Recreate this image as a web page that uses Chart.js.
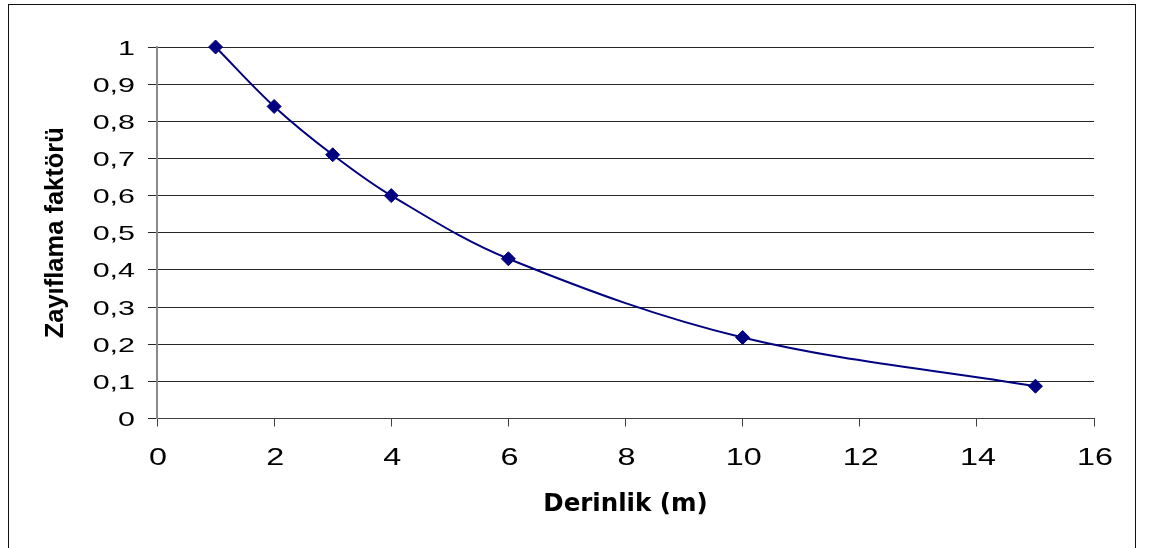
<!DOCTYPE html>
<html>
<head>
<meta charset="utf-8">
<title>Zayıflama faktörü – Derinlik</title>
<script src="https://cdn.jsdelivr.net/npm/chart.js@4"></script>
<style>
  html, body { margin: 0; padding: 0; background: #fff; overflow: hidden; }
  #wrap { position: relative; width: 1152px; height: 548px; overflow: hidden; }
  #frame { position: absolute; left: 8px; top: 4px; width: 1126px; height: 600px;
           border: 1px solid #111; pointer-events: none; }
  canvas { display: block; }
</style>
</head>
<body>
<div id="wrap">
  <canvas id="chart" width="1152" height="548"></canvas>
  <div id="frame"></div>
</div>
<script>
// Measured attenuation factor against depth
const depths = [1, 2, 3, 4, 6, 10, 15];
const attenuation = [1, 0.84, 0.71, 0.60, 0.43, 0.218, 0.087];

// Axis tick labels (Turkish decimal comma)
const xTickLabels = ['0', '2', '4', '6', '8', '10', '12', '14', '16'];
const yTickLabels = ['0', '0,1', '0,2', '0,3', '0,4', '0,5', '0,6', '0,7', '0,8', '0,9', '1'];

const xTitle = 'Derinlik (m)';
const yTitle = 'Zayıflama faktörü';

// Tick labels are drawn in a horizontally widened face, positioned from the scales.
const wideTickLabels = {
  id: 'wideTickLabels',
  afterDraw(chart) {
    const ctx = chart.ctx;
    const xs = chart.scales.x;
    const ys = chart.scales.y;
    ctx.save();
    ctx.fillStyle = '#000';
    ctx.textBaseline = 'alphabetic';

    ctx.font = '21px "Liberation Sans", Arial, sans-serif';
    ctx.textAlign = 'right';
    ys.ticks.forEach(t => {
      const py = ys.getPixelForValue(t.value);
      ctx.save();
      ctx.translate(ys.right - 22, py + 7.5);
      ctx.scale(1.45, 1);
      ctx.fillText(t.label, 0, 0);
      ctx.restore();
    });

    ctx.font = '24.5px "Liberation Sans", Arial, sans-serif';
    ctx.textAlign = 'center';
    xs.ticks.forEach(t => {
      const px = xs.getPixelForValue(t.value);
      ctx.save();
      ctx.translate(px + 1, xs.top + 46.5);
      ctx.scale(1.32, 1);
      ctx.fillText(t.label, 0, 0);
      ctx.restore();
    });
    ctx.restore();
  }
};

new Chart(document.getElementById('chart'), {
  type: 'line',
  data: {
    datasets: [{
      data: depths.map((d, i) => ({ x: d, y: attenuation[i] })),
      borderColor: '#000080',
      backgroundColor: '#000080',
      borderWidth: 2,
      tension: 0.35,
      pointStyle: 'rectRot',
      pointRadius: 7,
      pointBorderWidth: 1,
      pointBackgroundColor: '#000080',
      pointBorderColor: '#000080',
      clip: false
    }]
  },
  options: {
    responsive: false,
    devicePixelRatio: 1,
    animation: false,
    events: [],
    layout: { padding: { top: 47, right: 58, bottom: 0, left: 0 } },
    plugins: {
      legend: { display: false },
      tooltip: { enabled: false }
    },
    scales: {
      x: {
        type: 'linear',
        min: 0,
        max: 16,
        ticks: { stepSize: 2, display: false, callback: (v, i) => xTickLabels[i] },
        grid: { drawOnChartArea: false, drawTicks: true, tickLength: 8, color: '#404040', lineWidth: 1 },
        border: { color: '#404040', width: 1 },
        title: {
          display: true,
          text: xTitle,
          color: '#000',
          font: { family: '"DejaVu Sans", Verdana, sans-serif', weight: 'bold', size: 24.5 },
          padding: { top: 0, bottom: 29 }
        },
        afterFit: s => { s.height = 129.5; }
      },
      y: {
        type: 'linear',
        min: 0,
        max: 1,
        ticks: { stepSize: 0.1, display: false, callback: (v, i) => yTickLabels[i] },
        grid: { color: '#262626', lineWidth: 1, drawTicks: true, tickLength: 9 },
        border: { color: '#8a8a8a', width: 2 },
        title: {
          display: true,
          text: yTitle,
          color: '#000',
          font: { family: '"Liberation Sans", Arial, sans-serif', weight: 'bold', size: 25.5 },
          padding: { top: 41, bottom: 0 }
        },
        afterFit: s => { s.width = 157; }
      }
    }
  },
  plugins: [wideTickLabels]
});
</script>
</body>
</html>
